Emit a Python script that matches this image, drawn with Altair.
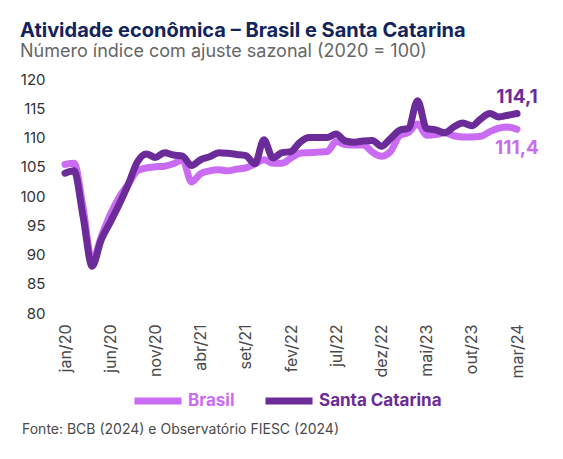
import altair as alt
import pandas as pd

meses = [
    "jan/20", "fev/20", "mar/20", "abr/20", "mai/20", "jun/20", "jul/20", "ago/20", "set/20", "out/20", "nov/20", "dez/20",
    "jan/21", "fev/21", "mar/21", "abr/21", "mai/21", "jun/21", "jul/21", "ago/21", "set/21", "out/21", "nov/21", "dez/21",
    "jan/22", "fev/22", "mar/22", "abr/22", "mai/22", "jun/22", "jul/22", "ago/22", "set/22", "out/22", "nov/22", "dez/22",
    "jan/23", "fev/23", "mar/23", "abr/23", "mai/23", "jun/23", "jul/23", "ago/23", "set/23", "out/23", "nov/23", "dez/23",
    "jan/24", "fev/24", "mar/24",
]

brasil = [
    105.4, 105.6, 98.0, 88.8, 93.0, 96.8, 99.8, 102.0, 104.3, 104.8,
    105.0, 105.1, 105.5, 106.2, 102.4, 103.8, 104.3, 104.5, 104.3, 104.6,
    104.8, 105.5, 106.2, 105.6, 105.6, 106.5, 107.3, 107.4, 107.5, 107.6,
    109.3, 108.8, 108.7, 108.7, 107.5, 106.8, 107.6, 110.3, 110.9, 112.3,
    110.4, 110.5, 110.8, 110.3, 110.1, 110.1, 110.2, 111.0, 111.6, 111.8, 111.4,
]

santa_catarina = [
    103.9, 104.3, 96.5, 88.0, 92.5, 95.5, 98.6, 102.0, 105.8, 107.2,
    106.6, 107.4, 107.0, 106.8, 105.2, 106.2, 106.7, 107.4, 107.3, 107.1,
    106.9, 105.5, 109.6, 106.5, 107.4, 107.6, 109.2, 110.0, 110.0, 110.0,
    110.6, 109.4, 109.2, 109.4, 109.5, 108.5, 109.8, 111.2, 111.6, 116.3,
    111.5, 111.3, 110.8, 111.8, 112.5, 112.0, 113.2, 114.1, 113.5, 113.8, 114.1,
]

series = ["Brasil", "Santa Catarina"]
cores = ["#c96cf3", "#6b2b98"]
y_ticks = [80, 85, 90, 95, 100, 105, 110, 115, 120]
x_ticks = list(range(0, 51, 5))

titulo = "Atividade econômica – Brasil e Santa Catarina"
subtitulo = "Número índice com ajuste sazonal (2020 = 100)"
fonte = "Fonte: BCB (2024) e Observatório FIESC (2024)"

rows = []
for i, m in enumerate(meses):
    rows.append({"idx": i, "mes": m, "serie": "Brasil", "valor": brasil[i]})
    rows.append({"idx": i, "mes": m, "serie": "Santa Catarina", "valor": santa_catarina[i]})
df = pd.DataFrame(rows)

def fmt(v):
    return f"{v:.1f}".replace(".", ",")

label_expr = "[" + ",".join(f"'{m}'" for m in meses) + "][datum.value]"
FONT = "Inter"

x_enc = alt.X(
    "idx:Q",
    scale=alt.Scale(domain=[0, len(meses) - 1], nice=False, zero=False),
    axis=alt.Axis(values=x_ticks, labelExpr=label_expr, labelAngle=-90, title=None,
                  grid=False, domain=False, ticks=False, labelPadding=11, labelOverlap=False,
                  labelFontSize=16, labelColor="#4a4a4a", labelFont=FONT),
)
y_enc = alt.Y(
    "valor:Q",
    scale=alt.Scale(domain=[80, 120], nice=False, zero=False),
    axis=alt.Axis(values=y_ticks, title=None, grid=False, domain=False, ticks=False,
                  labelOverlap=False, labelPadding=20, labelFontSize=15,
                  labelColor="#333333", labelFont=FONT),
)

color_expr = f"datum.label == 'Brasil' ? '{cores[0]}' : '{cores[1]}'"

lines = alt.Chart(df).mark_line(
    strokeWidth=7, strokeCap="round", strokeJoin="round", interpolate="monotone"
).encode(
    x=x_enc,
    y=y_enc,
    color=alt.Color(
        "serie:N",
        scale=alt.Scale(domain=series, range=cores),
        legend=alt.Legend(
            title=None, orient="none", legendX=66, legendY=295, direction="horizontal",
            symbolType="stroke", symbolStrokeWidth=7, symbolSize=2209,
            labelFontSize=17, labelFontWeight="bold", labelFont=FONT,
            labelColor={"expr": color_expr}, labelOffset=3, columnPadding=16,
        ),
    ),
)

end_sc = pd.DataFrame({"idx": [len(meses) - 1], "valor": [santa_catarina[-1]], "rotulo": [fmt(santa_catarina[-1])]})
end_br = pd.DataFrame({"idx": [len(meses) - 1], "valor": [brasil[-1]], "rotulo": [fmt(brasil[-1])]})

lab_sc = alt.Chart(end_sc).mark_text(
    dy=-17, fontSize=19, fontWeight="bold", font=FONT, color=cores[1], align="center"
).encode(x=x_enc, y=y_enc, text="rotulo:N")
lab_br = alt.Chart(end_br).mark_text(
    dy=19, fontSize=19, fontWeight="bold", font=FONT, color=cores[0], align="center"
).encode(x=x_enc, y=y_enc, text="rotulo:N")

foot = alt.Chart(pd.DataFrame({"t": [fonte]})).mark_text(
    align="left", baseline="middle", fontSize=14, font=FONT, color="#4a4a4a"
).encode(text="t:N", x=alt.value(-43), y=alt.value(351))

chart = alt.layer(lines, lab_sc, lab_br, foot).properties(
    width=452,
    height=234,
    padding={"left": 57, "top": 71, "right": 38, "bottom": 128},
    autosize=alt.AutoSizeParams(type="none"),
    title=alt.TitleParams(
        text=titulo, subtitle=subtitulo, anchor="start", frame="group", dx=-45,
        font=FONT, fontSize=20, fontWeight="bold", color="#13235b",
        subtitleFont=FONT, subtitleFontSize=18, subtitleColor="#666666", subtitlePadding=2,
        offset=11,
    ),
).configure_view(stroke=None)

chart.save("out.html", embed_options={"renderer": "svg", "actions": False})
